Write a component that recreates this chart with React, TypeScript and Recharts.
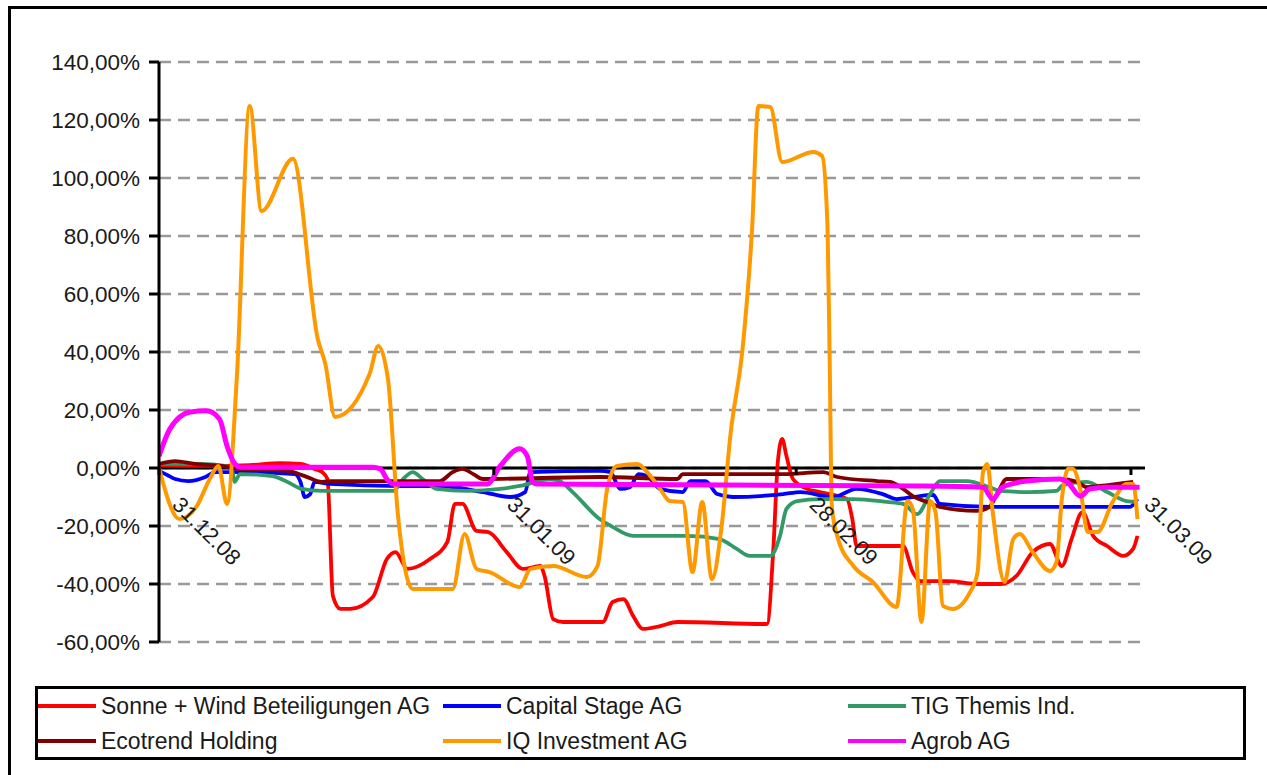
import { CartesianGrid, Line, LineChart, ReferenceDot, ReferenceLine, XAxis, YAxis } from "recharts"

// [day since 31.12.08, change in %]
const sonneWind: [number, number][] = [
  [0, 1.0], [3.8, 0.7], [8.4, 1.0], [11.2, 1.7], [13.1, 1.4], [14.4, -0.3], [15.1, -1.4], [15.6, -3.8],
  [16.1, -44.1], [16.8, -48.6], [17.7, -48.6], [19.8, -44.5], [21.1, -31.4], [21.9, -29.0], [23.0, -34.8],
  [25.1, -31.4], [26.7, -25.5], [27.4, -12.4], [28.1, -12.4], [29.4, -21.7], [30.5, -22.1], [32.2, -29.0],
  [33.7, -34.8], [35.3, -33.8], [35.7, -37.2], [36.5, -52.1], [37.4, -53.1], [41.1, -53.1], [42.0, -46.2],
  [43.0, -45.2], [43.9, -51.0], [44.8, -55.5], [46.4, -54.5], [48.0, -53.1], [56.3, -53.8], [56.9, -26.9],
  [57.3, 2.1], [57.7, 10.0], [58.1, 4.1], [58.7, -3.8], [60.0, -7.2], [61.2, -8.3], [63.7, -10.7],
  [64.2, -17.6], [64.6, -26.9], [68.9, -26.9], [69.8, -35.9], [70.5, -39.0], [73.0, -39.0], [76.0, -40.0],
  [77.9, -40.0], [79.4, -37.2], [80.9, -29.0], [82.5, -26.2], [83.6, -33.8], [84.5, -24.5], [85.5, -15.2],
  [86.5, -23.4], [87.8, -26.9], [89.3, -30.3], [90.2, -27.9], [90.6, -23.4],
]

const capitalStage: [number, number][] = [
  [0, -1.0], [0.6, -2.1], [1.5, -3.8], [2.7, -4.5], [4.3, -3.1], [5.2, -1.4], [7.3, -1.4], [12.6, -2.1],
  [13.1, -4.8], [13.5, -10.0], [14.0, -9.0], [14.4, -4.8], [15.8, -5.5], [22.3, -6.2], [26.0, -6.2],
  [30.0, -8.3], [32.5, -10.0], [33.9, -8.3], [34.4, -1.4], [40.8, -1.0], [41.8, -1.4], [42.7, -7.2],
  [43.6, -6.6], [44.4, -2.1], [45.2, -2.8], [46.4, -7.2], [48.5, -8.3], [49.2, -4.5], [50.6, -4.5],
  [51.7, -9.0], [53.1, -10.0], [57.8, -9.0], [59.4, -8.3], [62.4, -10.0], [64.6, -7.2], [67.0, -9.0],
  [68.3, -10.7], [69.8, -10.0], [71.7, -9.3], [72.3, -12.4], [76.9, -13.4], [89.9, -13.4], [90.6, -10.7],
]

const tigThemis: [number, number][] = [
  [0, 1.4], [3.8, 1.4], [6.1, 0.7], [6.8, -1.4], [7.0, -4.8], [7.5, -2.1], [10.5, -2.8], [11.9, -4.8],
  [13.2, -7.2], [15.1, -7.9], [21.7, -7.9], [22.6, -3.8], [23.5, -1.4], [24.4, -3.8], [25.7, -7.2],
  [28.5, -7.9], [31.6, -7.2], [33.4, -6.2], [36.2, -3.8], [37.1, -4.5], [38.3, -8.3], [40.8, -17.6],
  [42.0, -20.3], [43.9, -23.4], [48.9, -23.4], [51.9, -24.5], [53.5, -27.9], [54.7, -30.3], [56.6, -30.3],
  [57.5, -23.4], [58.1, -14.1], [59.1, -11.4], [61.2, -10.7], [64.3, -10.7], [67.4, -11.7], [68.9, -12.4],
  [70.2, -15.9], [71.4, -9.0], [72.3, -4.5], [74.8, -4.5], [76.9, -6.6], [77.9, -7.9], [80.6, -8.3],
  [83.1, -7.9], [83.7, -5.9], [85.9, -4.8], [87.8, -8.3], [89.6, -11.4], [90.6, -11.7],
]

const ecotrend: [number, number][] = [
  [0, 1.4], [1.5, 2.4], [3.3, 1.4], [5.8, 0.7], [7.3, -0.3], [11.9, -1.0], [13.5, -2.8], [15.1, -4.8],
  [16.0, -4.5], [26.0, -4.5], [27.2, -1.4], [28.1, -0.3], [29.1, -2.1], [30.0, -3.8], [40.8, -3.1],
  [48.0, -3.8], [48.5, -2.1], [57.8, -2.1], [61.5, -1.4], [62.8, -3.1], [66.5, -4.5], [67.7, -4.8],
  [68.9, -7.2], [69.8, -9.7], [71.1, -11.7], [72.3, -13.4], [75.7, -14.8], [76.9, -13.4], [77.6, -9.0],
  [78.5, -3.8], [83.4, -3.8], [85.0, -4.8], [85.9, -6.6], [87.1, -6.2], [90.2, -4.8],
]

const iqInvestment: [number, number][] = [
  [0, 0], [1.9, -17.6], [3.5, -13.1], [4.7, -3.8], [5.5, 0.7], [6.3, -12.4], [7.2, 30.7], [8.4, 124.8],
  [9.5, 88.6], [12.4, 106.6], [14.7, 44.5], [15.4, 35.9], [16.3, 17.6], [19.5, 32.4], [20.3, 42.1],
  [21.2, 30.7], [22.1, -15.2], [23.0, -38.3], [23.5, -41.7], [27.2, -41.7], [28.3, -22.8], [29.4, -34.8],
  [30.6, -35.9], [33.4, -41.0], [34.4, -34.8], [36.5, -33.8], [39.6, -37.6], [40.6, -33.8], [41.5, -7.2],
  [42.4, 0.7], [44.3, 1.4], [45.2, -1.4], [46.4, -7.2], [47.3, -11.4], [48.5, -11.7], [49.4, -35.9],
  [50.3, -11.7], [51.2, -38.3], [52.1, -20.0], [52.9, 11.0], [54.1, 43.4], [54.9, 81.4], [55.5, 124.8],
  [56.6, 124.5], [57.7, 105.5], [60.6, 109.0], [61.4, 107.6], [61.9, 83.4], [62.1, 37.6], [62.3, -13.1],
  [62.8, -23.4], [64.3, -33.8], [66.1, -39.3], [68.3, -47.9], [69.3, -11.4], [69.8, -14.1], [70.6, -53.1],
  [71.4, -11.4], [71.9, -15.2], [72.6, -47.6], [73.5, -48.6], [75.1, -42.8], [75.8, -35.9], [76.3, -1.4],
  [76.7, 1.4], [77.2, -15.2], [78.3, -39.3], [79.1, -24.5], [79.7, -22.8], [80.9, -29.0], [82.5, -35.5],
  [83.1, -32.4], [83.6, -10.7], [84.2, -0.3], [84.6, -0.3], [85.3, -7.2], [86.0, -22.1], [86.9, -22.1],
  [88.3, -11.7], [89.6, -5.5], [90.2, -5.5], [90.6, -17.6],
]

const agrob: [number, number][] = [
  [0, 4.1], [1.0, 13.4], [2.9, 19.3], [4.4, 19.7], [5.6, 16.9], [6.3, 7.6], [6.9, 2.1], [7.5, 0.3],
  [19.8, 0.3], [20.5, -0.3], [21.1, -3.8], [21.7, -5.5], [30.4, -5.5], [31.6, 0.7], [33.4, 6.6],
  [34.1, 4.1], [34.6, -4.8], [35.0, -5.5], [70.2, -6.2], [76.3, -6.6], [77.2, -10.7], [78.1, -6.6],
  [80.4, -4.5], [83.4, -3.8], [84.1, -4.8], [85.3, -9.7], [86.2, -7.2], [87.8, -6.6], [90.8, -6.6],
]

const yTicks = [-60, -40, -20, 0, 20, 40, 60, 80, 100, 120, 140]
const xTickDays = [0, 31, 59, 90]
const xTickLabels = ["31.12.08", "31.01.09", "28.02.09", "31.03.09"]

const series = [
  { name: "Sonne + Wind Beteiligungen AG", color: "#ff0000", data: sonneWind, w: 3.8 },
  { name: "Capital Stage AG", color: "#0000ff", data: capitalStage, w: 3.8 },
  { name: "TIG Themis Ind.", color: "#339966", data: tigThemis, w: 3.8 },
  { name: "Ecotrend Holding", color: "#800000", data: ecotrend, w: 3.8 },
  { name: "IQ Investment AG", color: "#ff9900", data: iqInvestment, w: 4 },
  { name: "Agrob AG", color: "#ff00ff", data: agrob, w: 5 },
]

const FONT = "'Liberation Sans', Arial, sans-serif"

const toPoints = (arr: [number, number][]) => arr.map(([day, v]) => ({ day, v }))
const pct = (v: number) => v.toFixed(2).replace(".", ",") + "%"

function DateTick(props: any) {
  const { cx, cy, label } = props
  const tx = cx + 12
  const ty = cy + 38
  return (
    <g>
      <line x1={cx} y1={cy} x2={cx} y2={cy + 7} stroke="#000" strokeWidth={3} />
      <text x={tx} y={ty} fontSize={22} fontFamily={FONT} fill="#1a1a1a" transform={`rotate(45 ${tx} ${ty})`}>
        {label}
      </text>
    </g>
  )
}

function App() {
  return (
    <div style={{ position: "fixed", left: 0, top: 0, width: 1267, height: 775, overflow: "hidden", background: "#fff" }}>
      <div style={{ position: "absolute", left: 8, top: 6, width: 1400, height: 900, border: "3px solid #000" }} />
      <div style={{ position: "absolute", left: 0, top: 0 }}>
        <LineChart width={1267} height={680} margin={{ top: 62, right: 122, left: 0, bottom: 38 }}>
          <CartesianGrid horizontal vertical={false} stroke="#999" strokeWidth={2.7} strokeDasharray="12 7" />
          <XAxis type="number" dataKey="day" domain={[0, 91.3]} hide allowDataOverflow />
          <YAxis
            type="number"
            domain={[-60, 140]}
            ticks={yTicks}
            interval={0}
            width={159}
            tickFormatter={pct}
            axisLine={{ stroke: "#000", strokeWidth: 3 }}
            tickLine={{ stroke: "#000", strokeWidth: 3 }}
            tickSize={10}
            tickMargin={9}
            tick={{ fill: "#1a1a1a", fontSize: 22.5, fontFamily: FONT }}
          />
          <ReferenceLine y={0} stroke="#000" strokeWidth={3} />
          {series.map((s) => (
            <Line
              key={s.name}
              data={toPoints(s.data)}
              dataKey="v"
              type="monotone"
              stroke={s.color}
              strokeWidth={s.w}
              dot={false}
              activeDot={false}
              isAnimationActive={false}
            />
          ))}
          {xTickDays.map((d, i) => (
            <ReferenceDot
              key={d}
              x={d}
              y={0}
              r={0}
              shape={(p: any) => <DateTick {...p} label={xTickLabels[i]} />}
            />
          ))}
        </LineChart>
      </div>
      <div
        style={{
          position: "absolute",
          left: 35,
          top: 686,
          width: 1205,
          height: 68,
          border: "3px solid #000",
          fontFamily: FONT,
          fontSize: 23,
          color: "#1a1a1a",
        }}
      >
        {series.map((s, i) => (
          <div
            key={s.name}
            style={{
              position: "absolute",
              left: [0, 405, 810][i % 3],
              top: i < 3 ? 4 : 39,
              display: "flex",
              alignItems: "center",
              height: 26,
              whiteSpace: "nowrap",
            }}
          >
            <span style={{ display: "inline-block", width: 58, height: 4, background: s.color, marginRight: 5 }} />
            {s.name}
          </div>
        ))}
      </div>
    </div>
  )
}

export default App
